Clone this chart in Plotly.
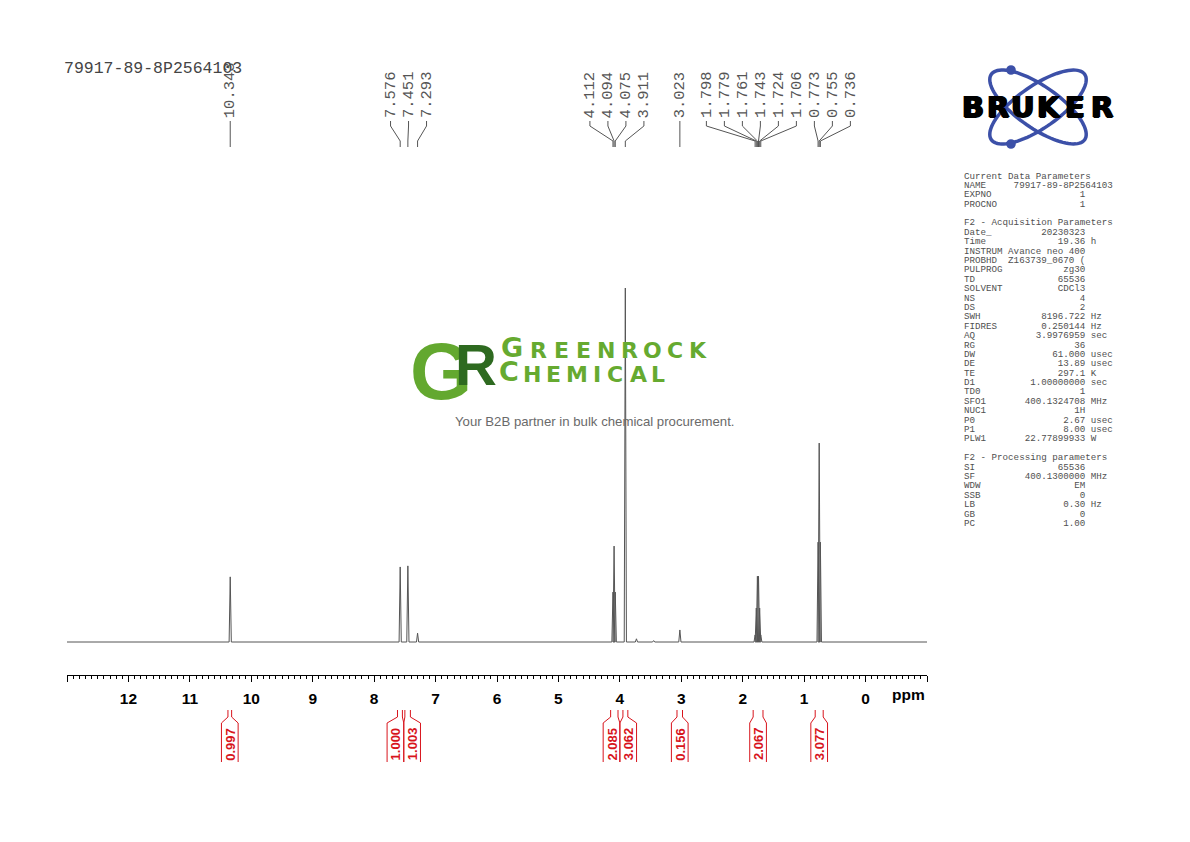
import numpy as np
import plotly.graph_objects as go

W, H = 1190, 842

# ---------------- data ----------------
spectrum_title = "79917-89-8P2564103"

peak_ppm = [10.343, 7.576, 7.451, 7.293, 4.112, 4.094, 4.075, 3.911, 3.023,
            1.798, 1.779, 1.761, 1.743, 1.724, 1.706, 0.773, 0.755, 0.736]
peak_height = [18.4, 21.2, 21.5, 2.5, 14.1, 27.1, 14.1, 100.0, 3.4,
               2.0, 9.6, 18.6, 18.6, 9.6, 2.0, 28.2, 56.2, 28.2]

extra_ppm = [3.73, 3.45]          # tiny unlabelled features
extra_height = [0.9, 0.4]

integral_from = [10.38, 7.62, 7.50, 4.15, 3.95, 3.07, 1.83, 0.82]
integral_to = [10.32, 7.54, 7.41, 4.03, 3.87, 2.98, 1.67, 0.69]
integral_labels = ["0.997", "1.000", "1.003", "2.085", "3.062", "0.156", "2.067", "3.077"]

tick_ppm = [13, 12, 11, 10, 9, 8, 7, 6, 5, 4, 3, 2, 1, 0, -1]
tick_labels = ["", "12", "11", "10", "9", "8", "7", "6", "5", "4", "3", "2", "1", "0", ""]

current_params = [("NAME", "79917-89-8P2564103", ""), ("EXPNO", "1", ""), ("PROCNO", "1", "")]
acq_params = [
    ("Date_", "20230323", ""), ("Time", "19.36", "h"), ("INSTRUM", "Avance neo 400", ""),
    ("PROBHD", "Z163739_0670 (", ""), ("PULPROG", "zg30", ""), ("TD", "65536", ""),
    ("SOLVENT", "CDCl3", ""), ("NS", "4", ""), ("DS", "2", ""), ("SWH", "8196.722", "Hz"),
    ("FIDRES", "0.250144", "Hz"), ("AQ", "3.9976959", "sec"), ("RG", "36", ""),
    ("DW", "61.000", "usec"), ("DE", "13.89", "usec"), ("TE", "297.1", "K"),
    ("D1", "1.00000000", "sec"), ("TD0", "1", ""), ("SFO1", "400.1324708", "MHz"),
    ("NUC1", "1H", ""), ("P0", "2.67", "usec"), ("P1", "8.00", "usec"),
    ("PLW1", "22.77899933", "W"),
]
proc_params = [
    ("SI", "65536", ""), ("SF", "400.1300000", "MHz"), ("WDW", "EM", ""), ("SSB", "0", ""),
    ("LB", "0.30", "Hz"), ("GB", "0", ""), ("PC", "1.00", ""),
]

# ---------------- geometry (pixels) ----------------
X_LEFT, X_RIGHT = 67, 927
PPM_LEFT, PPM_RIGHT = 13.0, -1.0
AX_Y, TOP_Y, BASE_Y = 675, 100, 642
PX_PER_UNIT = 3.54
PX_PER_PPM = (X_RIGHT - X_LEFT) / (PPM_LEFT - PPM_RIGHT)

GRAY = "#555555"
RED = "#d8141c"


def xp(px):
    return px / W


def yp(py):
    return 1 - py / H


def spread(centers, gap):
    groups = [[i] for i in range(len(centers))]

    def lay(g):
        m = float(np.mean([centers[i] for i in g]))
        n = len(g)
        return [m + gap * ((n - 1) / 2 - j) for j in range(n)]

    while True:
        merged = False
        for k in range(len(groups) - 1):
            a, b = lay(groups[k]), lay(groups[k + 1])
            if a[-1] - b[0] < gap - 1e-9:
                groups[k] = groups[k] + groups[k + 1]
                del groups[k + 1]
                merged = True
                break
        if not merged:
            break
    out = []
    for g in groups:
        out += lay(g)
    return out


# ---------------- spectrum trace ----------------
all_ppm = peak_ppm + extra_ppm
all_h = peak_height + extra_height
order = sorted(range(len(all_ppm)), key=lambda i: -all_ppm[i])
HW = 0.018
sx, sy = [PPM_LEFT], [0.0]
for i in order:
    p, h = all_ppm[i], all_h[i]
    sx += [p + HW, p, p - HW]
    sy += [0.0, h, 0.0]
sx.append(PPM_RIGHT)
sy.append(0.0)

fig = go.Figure()
fig.add_trace(go.Scatter(x=sx, y=sy, mode="lines", line=dict(color=GRAY, width=1),
                         hoverinfo="skip", showlegend=False))

shapes = []
annotations = []

# ---------------- peak labels ----------------
label_gap = 18 / PX_PER_PPM
label_pos = spread(peak_ppm, label_gap)
for p, lx in zip(peak_ppm, label_pos):
    path = (f"M {lx},{yp(121)} L {lx},{yp(126)} L {p},{yp(141)} L {p},{yp(147)}")
    shapes.append(dict(type="path", xref="x", yref="paper", path=path,
                       line=dict(color=GRAY, width=1)))
    annotations.append(dict(x=lx, xref="x", y=yp(120), yref="paper", text=f"{p:.3f}",
                            textangle=-90, showarrow=False, xanchor="center", yanchor="bottom",
                            font=dict(family="Liberation Mono", size=15.5, color=GRAY)))

# ---------------- integrals ----------------
int_gap = 16.7 / PX_PER_PPM
mids = [(a + b) / 2 for a, b in zip(integral_from, integral_to)]
box_pos = spread(mids, int_gap)
for a, b, c, lab in zip(integral_from, integral_to, box_pos, integral_labels):
    bl, br = c + int_gap / 2, c - int_gap / 2
    for edge, bx in ((a, bl), (b, br)):
        path = (f"M {edge},{yp(710)} L {edge},{yp(717)} L {bx},{yp(723)} L {bx},{yp(762)}")
        shapes.append(dict(type="path", xref="x", yref="paper", path=path,
                           line=dict(color=RED, width=1)))
    annotations.append(dict(x=c, xref="x", y=yp(744), yref="paper", text=lab, textangle=-90,
                            showarrow=False, xanchor="center", yanchor="middle",
                            font=dict(family="Liberation Sans", size=13, color=RED, weight="bold")))

# ---------------- title / axis unit ----------------
annotations.append(dict(x=xp(62), y=yp(68), xref="paper", yref="paper", text=spectrum_title,
                        showarrow=False, xanchor="left", yanchor="middle",
                        font=dict(family="Liberation Mono", size=16.5, color="#444444")))
annotations.append(dict(x=xp(909), y=yp(694), xref="paper", yref="paper", text="ppm",
                        showarrow=False, xanchor="center", yanchor="middle",
                        font=dict(family="Liberation Sans", size=15.5, color="#000", weight="bold")))

# ---------------- Bruker logo ----------------
BLUE = "#3c50a8"
cx, cy, ea, eb = 1038, 107, 57, 21
t = np.linspace(0, 2 * np.pi, 90)
for ang in (35, -35):
    r = np.deg2rad(ang)
    ex = cx + ea * np.cos(t) * np.cos(r) - eb * np.sin(t) * np.sin(r)
    ey = cy + ea * np.cos(t) * np.sin(r) + eb * np.sin(t) * np.cos(r)
    path = "M " + " L ".join(f"{xp(u):.5f},{yp(v):.5f}" for u, v in zip(ex, ey)) + " Z"
    shapes.append(dict(type="path", xref="paper", yref="paper", path=path,
                       line=dict(color=BLUE, width=3.5)))
for dx, dy in ((1011, 70), (1011, 144)):
    rr = 4.8
    shapes.append(dict(type="circle", xref="paper", yref="paper", x0=xp(dx - rr), x1=xp(dx + rr),
                       y0=yp(dy + rr), y1=yp(dy - rr), fillcolor=BLUE, line=dict(width=0)))
for ch, lx in zip("BRUKER", [972.5, 997.5, 1023, 1049, 1075, 1101.5]):
    annotations.append(dict(x=xp(lx), y=yp(107), xref="paper", yref="paper", text=ch,
                            showarrow=False, xanchor="center", yanchor="middle",
                            font=dict(family="DejaVu Sans", size=29, color="#000", weight="bold",
                                      shadow="1px 0 0 #000, -1px 0 0 #000, 0 1px 0 #000")))

# ---------------- parameter table ----------------
def fmt(name, val, unit):
    if name == "NAME":
        s = f"{name:<9}{val}"
    else:
        s = f"{name:<8}{val:>14} {unit}".rstrip()
    return s


rows = ["Current Data Parameters"] + [fmt(*r) for r in current_params] + [""]
rows += ["F2 - Acquisition Parameters"] + [fmt(*r) for r in acq_params] + [""]
rows += ["F2 - Processing parameters"] + [fmt(*r) for r in proc_params]
for k, s in enumerate(rows):
    if not s:
        continue
    annotations.append(dict(x=xp(962), y=yp(176 + 9.39 * k), xref="paper", yref="paper",
                            text=s.replace(" ", "\u00a0"), showarrow=False, xanchor="left",
                            yanchor="middle",
                            font=dict(family="Liberation Mono", size=9.2, color="#505050")))

# ---------------- watermark ----------------
annotations.append(dict(x=xp(441), y=yp(371), xref="paper", yref="paper", text="G",
                        showarrow=False, xanchor="center", yanchor="middle",
                        font=dict(family="Liberation Sans", size=80, color="#63a82f", weight="bold")))
annotations.append(dict(x=xp(497), y=yp(364), xref="paper", yref="paper", text="R",
                        showarrow=False, xanchor="right", yanchor="middle", borderpad=0,
                        borderwidth=0,
                        font=dict(family="Liberation Sans", size=58, color="#2e6a20", weight="bold")))
GREEN = "#66aa30"
row1 = [("G", 512, 27), ("R", 538, 22), ("E", 561, 22), ("E", 583, 22), ("N", 606, 22),
        ("R", 629, 22), ("O", 652, 22), ("C", 675, 22), ("K", 698, 22)]
row2 = [("C", 509, 27), ("H", 532, 22), ("E", 553, 22), ("M", 577, 22), ("I", 597, 22),
        ("C", 615, 22), ("A", 638, 22), ("L", 658, 22)]
for letters, ybase in ((row1, 363), (row2, 387)):
    for ch, lx, sz in letters:
        annotations.append(dict(x=xp(lx), y=yp(ybase), xref="paper", yref="paper", text=ch,
                                showarrow=False, xanchor="center", yanchor="bottom", borderpad=0,
                                borderwidth=0,
                                font=dict(family="DejaVu Sans", size=sz, color=GREEN, weight="bold")))
annotations.append(dict(x=xp(594.5), y=yp(421), xref="paper", yref="paper",
                        text="Your B2B partner in bulk chemical procurement.", showarrow=False,
                        xanchor="center", yanchor="middle",
                        font=dict(family="Liberation Sans", size=13.2, color="#6a6a6a")))

fig.update_layout(
    width=W, height=H, margin=dict(l=0, r=0, t=0, b=0),
    paper_bgcolor="white", plot_bgcolor="white", showlegend=False,
    xaxis=dict(domain=[xp(X_LEFT), xp(X_RIGHT)], range=[PPM_LEFT, PPM_RIGHT],
               tickmode="array", tickvals=tick_ppm, ticktext=tick_labels,
               ticks="outside", ticklen=6, tickwidth=1, tickcolor="#000",
               showline=True, linecolor="#000", linewidth=1, showgrid=False, zeroline=False,
               tickfont=dict(family="Liberation Sans", size=15.5, color="#000", weight="bold"),
               ticklabelstandoff=3,
               minor=dict(tickmode="linear", tick0=0, dtick=0.1, ticks="outside", ticklen=3,
                          tickcolor="#000", tickwidth=1, showgrid=False),
               fixedrange=True),
    yaxis=dict(domain=[yp(AX_Y), yp(TOP_Y)],
               range=[-(AX_Y - BASE_Y) / PX_PER_UNIT, (AX_Y - TOP_Y - (AX_Y - BASE_Y)) / PX_PER_UNIT],
               visible=False, fixedrange=True),
    shapes=shapes, annotations=annotations,
)

fig.write_html("out.html", post_script="document.body.style.margin='0';",
               config={"displayModeBar": False})
